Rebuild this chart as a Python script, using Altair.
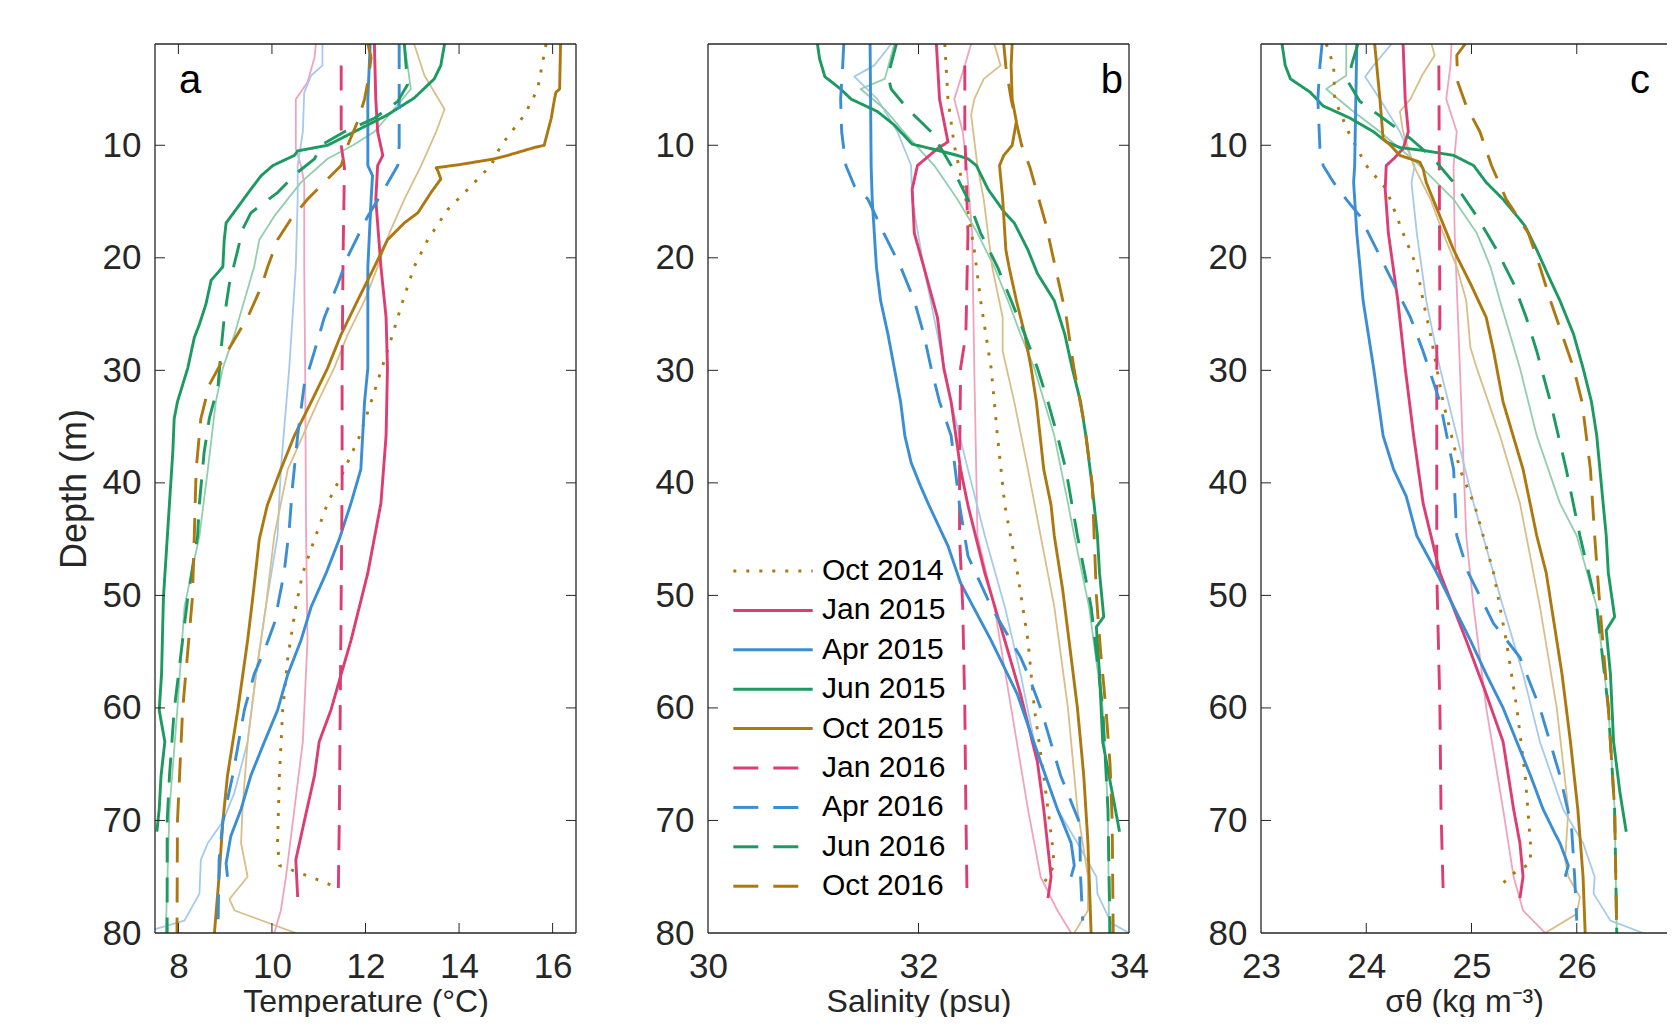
import altair as alt
import pandas as pd

FONT = "Liberation Sans"
TXT = "#262626"

series_order = ["Oct 2014", "Jan 2015", "Apr 2015", "Jun 2015", "Oct 2015",
                "Jan 2016", "Apr 2016", "Jun 2016", "Oct 2016"]
series_colors = ["#AD780F", "#DE3D72", "#3A8ED4", "#1C9A62", "#AD780F",
                 "#DE3D72", "#3A8ED4", "#1C9A62", "#AD780F"]
series_dashes = [[3, 10], [1, 0], [1, 0], [1, 0], [1, 0],
                 [25, 15], [25, 15], [25, 15], [25, 15]]
faint_names = ["ref pink", "ref blue", "ref green", "ref tan"]
faint_colors = ["#F0A3BE", "#A6CAEC", "#93CEAE", "#D9BE88"]

depth_ticks = [10, 20, 30, 40, 50, 60, 70, 80]
inner_depth_ticks = [10, 20, 30, 40, 50, 60, 70]
temp_ticks = [8, 10, 12, 14, 16]
sal_ticks = [30, 32, 34]
sig_ticks = [23, 24, 25, 26]
temp_inner = [8, 10, 12, 14, 16]
sal_inner = [32]
sig_inner = [24, 25, 26]

# ---------------- Temperature (depth, degC) ----------------
temp_oct2014 = [(1, 15.86), (5, 15.68), (7.3, 15.4), (10, 14.9), (11.8, 14.68), (13.6, 14.26), (15.7, 13.76),
                (18.4, 13.33), (20.8, 13.04), (23.8, 12.8), (26.8, 12.58), (29.8, 12.35), (32.8, 12.12),
                (35.8, 11.88), (38.8, 11.55), (41.8, 11.19), (45, 10.91), (48, 10.66), (51, 10.51),
                (55.5, 10.34), (60.2, 10.23), (66, 10.16), (72, 10.12), (74, 10.16), (74.7, 10.62),
                (75.6, 11.19), (76, 11.37)]
temp_jan2015 = [(1, 12.19), (5.9, 12.22), (8.8, 12.26), (10.9, 12.37), (11.8, 12.26), (14.8, 12.22),
                (20.8, 12.33), (25.3, 12.44), (29.8, 12.47), (35.8, 12.44), (41.8, 12.33), (48, 12.05),
                (54, 11.69), (57, 11.48), (60.2, 11.26), (63, 11.01), (66, 10.91), (70.1, 10.69),
                (73.5, 10.51), (76.8, 10.55)]
temp_apr2015 = [(1, 12.1), (5.9, 12.05), (11.8, 12.05), (12.7, 12.15), (14.8, 12.12), (20.8, 12.05),
                (29.8, 12.05), (32.8, 11.98), (38.8, 11.9), (41.8, 11.69), (45, 11.44), (48, 11.16),
                (51, 10.84), (54, 10.62), (57, 10.34), (60.2, 10.12), (63, 9.84), (66, 9.55), (69, 9.34),
                (71.4, 9.12), (73.8, 9.02), (75, 9.05)]
temp_jun2015 = [(1, 13.69), (2.9, 13.61), (4.1, 13.47), (5.8, 13.04), (7.3, 12.47), (8.8, 11.76), (10, 11.19),
                (10.5, 10.55), (10.9, 10.48), (11.8, 10.02), (12.7, 9.77), (13.9, 9.55), (15.1, 9.34),
                (16.9, 9.02), (18.4, 8.98), (20.8, 8.95), (22, 8.7), (24.1, 8.59), (25.9, 8.45), (27.1, 8.34),
                (29.8, 8.2), (32.8, 7.98), (34.3, 7.91), (37.3, 7.88), (41.8, 7.81), (45, 7.76), (50.2, 7.68),
                (57, 7.64), (60.2, 7.59), (63, 7.71), (66, 7.63), (69, 7.59), (71, 7.54)]
temp_oct2015 = [(1, 16.17), (5, 16.15), (5.3, 16.07), (5.9, 16.04), (7.6, 15.97), (10, 15.82), (10.2, 15.61),
                (10.9, 15.04), (11.2, 14.76), (11.7, 14.04), (12, 13.51), (12.3, 13.55), (13, 13.61),
                (14.2, 13.4), (16, 13.12), (16.9, 12.83), (18.4, 12.47), (20.8, 12.19), (23.8, 11.83),
                (26.8, 11.48), (29.8, 11.19), (32.8, 10.84), (35.8, 10.48), (38.8, 10.19), (42, 9.9),
                (45, 9.73), (50.2, 9.59), (54, 9.48), (60.2, 9.27), (66, 9.05), (70.1, 8.95), (75, 8.87),
                (80, 8.77)]
temp_jan2016 = [(2.9, 11.48), (10, 11.48), (12, 11.55), (20, 11.52), (30, 11.5), (40, 11.5), (50, 11.48),
                (60, 11.46), (70, 11.44), (76, 11.42)]
temp_apr2016 = [(1, 12.72), (10, 12.72), (11.8, 12.69), (13.9, 12.4), (16.3, 12.05), (19.9, 11.62),
                (22.3, 11.41), (25.3, 11.12), (28.3, 10.91), (31.3, 10.69), (35.8, 10.55), (40.3, 10.44),
                (44.1, 10.37), (48, 10.26), (52.5, 10.05), (54.9, 9.84), (57, 9.62), (60.2, 9.41),
                (66, 9.16), (70.1, 8.95), (73.5, 8.87), (78.9, 8.85)]
temp_jun2016 = [(1, 12.83), (4.6, 12.9), (6.1, 12.69), (7.6, 12.19), (8.8, 11.55), (10, 11.05), (11.2, 10.91),
                (12.4, 10.55), (14.2, 10.12), (16, 9.55), (17.5, 9.37), (19.3, 9.27), (22.3, 9.09),
                (25.3, 8.98), (28.3, 8.91), (31.3, 8.85), (34.3, 8.66), (37.3, 8.55), (41.8, 8.45),
                (44.7, 8.41), (50.2, 8.2), (60.2, 7.91), (66, 7.81), (70.1, 7.76), (80, 7.76)]
temp_oct2016 = [(1, 12.05), (2.2, 12.12), (4.4, 12.05), (5.9, 11.98), (7.9, 11.83), (10, 11.62),
                (11.8, 11.48), (13, 11.19), (14.8, 10.76), (16.6, 10.4), (18.4, 10.12), (20.8, 9.91),
                (22.6, 9.77), (25.3, 9.48), (28.3, 9.05), (31.3, 8.66), (34.3, 8.48), (38.8, 8.38),
                (44.7, 8.34), (50.2, 8.3), (60.2, 8.09), (70.1, 7.98), (80, 7.97)]
temp_ref_pink = [(1, 10.94), (2.2, 10.91), (4.4, 10.76), (5.9, 10.51), (8.8, 10.51), (10.3, 10.51),
                 (11.8, 10.62), (13.3, 10.69), (20.8, 10.69), (29.8, 10.71), (44.7, 10.73), (54, 10.76),
                 (63, 10.66), (69, 10.48), (75, 10.3), (78, 10.19), (80, 10.05)]
temp_ref_blue = [(1, 11.08), (2.9, 11.08), (3.8, 10.84), (5.3, 10.69), (8.8, 10.66), (11.8, 10.55),
                 (14.8, 10.55), (20.8, 10.51), (29.8, 10.37), (38.8, 10.19), (44.7, 10.12), (51, 9.87),
                 (57, 9.66), (63, 9.48), (67.5, 9.2), (70.1, 8.95), (72, 8.63), (73.5, 8.48), (76.5, 8.45),
                 (78.9, 8.13), (79.5, 7.63), (80, 7.2)]
temp_ref_green = [(1, 12.83), (2.9, 12.9), (5, 12.97), (6.4, 12.69), (8.8, 12.19), (10, 11.73), (11.2, 11.19),
                  (13.3, 10.62), (16.3, 10.05), (18.4, 9.73), (20.8, 9.62), (23.8, 9.41), (26.8, 9.2),
                  (29.8, 8.95), (32.8, 8.8), (38.8, 8.63), (44.7, 8.45), (51, 8.13), (60, 7.98), (69, 7.81),
                  (80, 7.73)]
temp_ref_tan = [(1, 13.04), (3.8, 13.26), (6.8, 13.69), (8.8, 13.51), (11.8, 13.19), (14.8, 12.83),
                (17.8, 12.51), (20.8, 12.26), (23.8, 11.98), (26.8, 11.62), (29.8, 11.33), (32.8, 10.98),
                (38.8, 10.34), (44.7, 10.05), (51, 9.87), (57, 9.66), (63, 9.48), (69, 9.37), (72, 9.34),
                (75, 9.48), (77, 9.09), (78, 9.2), (80, 10.51)]

# ---------------- Salinity (depth, psu) ----------------
sal_oct2014 = [(1, 32.25), (5.9, 32.28), (10, 32.34), (14.8, 32.45), (19.3, 32.53), (23.8, 32.59),
               (29.8, 32.69), (35.8, 32.75), (42, 32.82), (48, 32.94), (54, 33.04), (60, 33.1), (66, 33.19),
               (72, 33.27), (74, 33.29), (75.6, 33.19)]
sal_jan2015 = [(1, 32.17), (5.9, 32.2), (9.7, 32.28), (10.3, 32.18), (11.8, 31.99), (13.9, 31.94),
               (17.8, 31.96), (20.8, 32.05), (25.3, 32.18), (29.8, 32.24), (32.8, 32.31), (38.8, 32.4),
               (42, 32.47), (48, 32.63), (54, 32.82), (58.8, 32.97), (64.8, 33.13), (69, 33.19), (75, 33.26),
               (76.9, 33.23)]
sal_apr2015 = [(1, 31.54), (11.8, 31.55), (14.8, 31.56), (20.8, 31.6), (23.8, 31.64), (26.8, 31.71),
               (29.8, 31.77), (32.8, 31.83), (35.8, 31.87), (38.2, 31.93), (40.3, 32.02), (42, 32.1),
               (45.6, 32.28), (48.9, 32.4), (54, 32.69), (58.8, 32.94), (64.8, 33.16), (69, 33.32),
               (72, 33.45), (74, 33.48), (75, 33.45)]
sal_jun2015 = [(1, 31.04), (2.3, 31.06), (3.9, 31.11), (5, 31.26), (5.9, 31.36), (7, 31.61), (8.2, 31.77),
               (9.9, 31.94), (10.3, 32.12), (10.9, 32.37), (11.2, 32.47), (11.8, 32.55), (13.9, 32.66),
               (16, 32.82), (16.9, 32.91), (19.3, 33.04), (21.4, 33.13), (23.8, 33.29), (26.8, 33.39),
               (29.8, 33.46), (32.8, 33.54), (35.8, 33.59), (40.3, 33.65), (44.7, 33.7), (48, 33.72),
               (51.9, 33.76), (52.8, 33.69), (57, 33.72), (63, 33.75), (67.5, 33.84), (71, 33.91)]
sal_oct2015 = [(1, 32.89), (2.9, 32.88), (5.9, 32.89), (7.9, 32.93), (10, 32.89), (10.9, 32.81),
               (11.8, 32.77), (14.8, 32.8), (19.3, 32.83), (20.8, 32.86), (23.8, 32.93), (26.8, 33.01),
               (29.8, 33.07), (32.8, 33.12), (38.8, 33.19), (42, 33.26), (44.7, 33.29), (49.5, 33.37),
               (54, 33.43), (60, 33.51), (66, 33.57), (72, 33.61), (80, 33.64)]
sal_jan2016 = [(2.9, 32.44), (8.8, 32.44), (11.8, 32.45), (17.8, 32.47), (26.8, 32.45), (29.8, 32.4),
               (38.8, 32.39), (44.7, 32.39), (51, 32.42), (60, 32.44), (69, 32.45), (76, 32.46)]
sal_apr2016 = [(1, 31.29), (2.9, 31.28), (5.9, 31.26), (8.8, 31.27), (11.8, 31.31), (13.6, 31.39),
               (14.8, 31.52), (17.8, 31.67), (20.8, 31.83), (23.8, 31.96), (26.8, 32.05), (29.8, 32.12),
               (32.8, 32.2), (35.8, 32.31), (42, 32.39), (46.5, 32.47), (51, 32.69), (55.5, 32.97),
               (57, 33.04), (60, 33.16), (66, 33.35), (70.2, 33.53), (75, 33.54), (78.9, 33.56)]
sal_jun2016 = [(1, 31.79), (3.8, 31.71), (5, 31.74), (6.8, 31.9), (8.8, 32.12), (11.8, 32.31), (14.8, 32.47),
               (17.8, 32.59), (20.8, 32.75), (23.8, 32.88), (26.8, 33.01), (29.8, 33.13), (32.8, 33.23),
               (35.8, 33.32), (38.8, 33.4), (44.7, 33.51), (51, 33.64), (60, 33.75), (69, 33.8), (80, 33.82)]
sal_oct2016 = [(1, 32.81), (3, 32.83), (5.9, 32.88), (8, 32.93), (10, 32.98), (12, 33.06), (15, 33.15),
               (17, 33.21), (20, 33.28), (25, 33.4), (30, 33.48), (35, 33.58), (40, 33.65), (45, 33.67),
               (50, 33.69), (55, 33.73), (60, 33.78), (65, 33.82), (70, 33.84), (80, 33.85)]
sal_ref_pink = [(1, 32.5), (2.9, 32.44), (5.9, 32.34), (8.8, 32.42), (10.3, 32.44), (13.3, 32.47),
                (17.8, 32.51), (29.8, 32.53), (44.7, 32.56), (51, 32.72), (60, 32.88), (69, 33.04),
                (75, 33.16), (78, 33.32), (80, 33.45)]
sal_ref_blue = [(1, 31.74), (2.9, 31.58), (3.9, 31.39), (5.9, 31.61), (8.8, 31.8), (11.8, 31.93),
                (14.8, 31.94), (20.8, 32.05), (26.8, 32.18), (32.8, 32.31), (38.8, 32.47), (44.7, 32.63),
                (51, 32.82), (57, 32.97), (63, 33.1), (69, 33.32), (72, 33.51), (75, 33.69), (76.5, 33.7),
                (79.1, 33.83), (80, 34.0)]
sal_ref_green = [(1, 31.77), (4.1, 31.68), (5, 31.45), (6.8, 31.68), (8.8, 31.86), (11.8, 32.15),
                 (14.8, 32.37), (17.8, 32.56), (20.8, 32.72), (23.8, 32.85), (26.8, 32.97), (29.8, 33.1),
                 (35.8, 33.29), (41.8, 33.42), (44.7, 33.48), (51, 33.62), (60, 33.75), (69, 33.8),
                 (80, 33.81)]
sal_ref_tan = [(1, 32.72), (2.9, 32.78), (4.1, 32.62), (5.9, 32.53), (7.3, 32.5), (11.8, 32.56),
               (14.8, 32.62), (20.8, 32.7), (25.3, 32.8), (28.3, 32.8), (32.8, 32.91), (38.8, 33.04),
               (44.7, 33.16), (51, 33.29), (60, 33.42), (69, 33.51), (75, 33.61), (78, 33.61), (80, 33.48)]

# ---------------- Sigma-theta (depth, kg m-3) ----------------
sig_oct2014 = [(1, 23.62), (2.9, 23.69), (5.9, 23.7), (8.8, 23.83), (11.8, 24.0), (13.9, 24.19),
               (17.8, 24.35), (20.8, 24.48), (23.8, 24.54), (26.8, 24.61), (29.8, 24.67), (32.8, 24.73),
               (38.8, 24.89), (42, 25.03), (48, 25.21), (54, 25.33), (60, 25.43), (66, 25.51), (72, 25.56),
               (73.8, 25.56), (74.7, 25.4), (76, 25.25)]
sig_jan2015 = [(1, 24.35), (5.9, 24.37), (8.8, 24.4), (10.3, 24.35), (11.2, 24.26), (11.8, 24.19),
               (13.9, 24.18), (17.8, 24.21), (23.8, 24.3), (29.8, 24.37), (35.8, 24.45), (41.8, 24.54),
               (48, 24.7), (54, 24.95), (58.5, 25.13), (63, 25.3), (69, 25.4), (72, 25.46), (75, 25.49),
               (76.9, 25.46)]
sig_apr2015 = [(1, 23.91), (11.8, 23.89), (13.3, 23.88), (17.8, 23.91), (23.8, 23.97), (29.8, 24.07),
               (35.8, 24.16), (38.8, 24.26), (41.2, 24.38), (44.7, 24.48), (48, 24.67), (51, 24.83),
               (54, 24.99), (57, 25.14), (60, 25.3), (63, 25.43), (66, 25.56), (69, 25.68), (71.1, 25.79),
               (72, 25.84), (74, 25.92), (75, 25.89)]
sig_jun2015 = [(1, 23.2), (2.9, 23.23), (4.1, 23.28), (5.3, 23.47), (6.5, 23.59), (7.6, 23.85), (8.8, 24.07),
               (9.7, 24.19), (10.2, 24.32), (10.5, 24.57), (10.9, 24.83), (11.8, 25.02), (13.3, 25.14),
               (14.8, 25.3), (16.6, 25.46), (17.2, 25.51), (19.3, 25.62), (22, 25.75), (23.8, 25.84),
               (26.8, 25.97), (29.8, 26.06), (32.8, 26.14), (35.8, 26.19), (38.8, 26.22), (44.7, 26.28),
               (48, 26.3), (51.9, 26.36), (53.1, 26.28), (57, 26.32), (63, 26.35), (67.5, 26.41), (71, 26.47)]
sig_oct2015 = [(1, 24.08), (5.9, 24.13), (9.4, 24.16), (10, 24.23), (10.9, 24.32), (11.5, 24.51),
               (12.1, 24.54), (13.3, 24.57), (16.3, 24.7), (19.3, 24.83), (22.3, 24.99), (25.3, 25.14),
               (28.3, 25.21), (32.8, 25.3), (38.8, 25.49), (44.7, 25.62), (48, 25.71), (51, 25.76),
               (57, 25.86), (63, 25.94), (69, 26.01), (75, 26.06), (80, 26.08)]
sig_jan2016 = [(2.9, 24.69), (26.2, 24.7), (27, 24.67), (48, 24.67), (60, 24.7), (69, 24.71), (76, 24.73)]
sig_apr2016 = [(1, 23.58), (2.9, 23.56), (5.9, 23.54), (10.3, 23.56), (11.8, 23.59), (13.3, 23.69),
               (14.8, 23.81), (16.3, 23.94), (19.3, 24.1), (22.3, 24.26), (25.3, 24.42), (28.3, 24.54),
               (32.8, 24.7), (38.8, 24.83), (44.7, 24.86), (48, 24.97), (52.5, 25.21), (55.5, 25.46),
               (60, 25.65), (66, 25.84), (70.5, 25.95), (75, 25.98), (78.9, 26.0)]
sig_jun2016 = [(1, 23.92), (2.9, 23.86), (4.4, 23.83), (6.1, 23.94), (7.6, 24.16), (9.4, 24.42), (11.2, 24.64),
               (13.3, 24.83), (16.3, 25.05), (19.3, 25.24), (22.3, 25.4), (25.3, 25.52), (28.3, 25.62),
               (32.8, 25.75), (38.8, 25.9), (44.7, 26.03), (51, 26.19), (60, 26.3), (69, 26.36), (80, 26.38)]
sig_oct2016 = [(1, 24.94), (2, 24.86), (4.4, 24.87), (6.5, 24.95), (8.8, 25.08), (11.8, 25.19), (14.8, 25.33),
               (17.8, 25.54), (20.8, 25.65), (23.8, 25.75), (26.8, 25.86), (29.8, 25.97), (32.8, 26.05),
               (38.8, 26.13), (44.7, 26.17), (51, 26.22), (60, 26.3), (69, 26.36), (80, 26.38)]
sig_ref_pink = [(1, 24.81), (2.9, 24.8), (5.9, 24.76), (8.8, 24.86), (11.8, 24.83), (17.8, 24.84),
                (29.8, 24.89), (44.7, 24.95), (51, 25.02), (60, 25.14), (69, 25.3), (75, 25.4), (78, 25.49),
                (80, 25.7)]
sig_ref_blue = [(1, 24.24), (2.9, 24.07), (3.9, 23.99), (5.9, 24.13), (8.8, 24.32), (11.8, 24.46),
                (13.3, 24.43), (17.8, 24.48), (23.8, 24.57), (29.8, 24.7), (35.8, 24.86), (41.8, 25.02),
                (51, 25.3), (57, 25.49), (63, 25.65), (69, 25.87), (72, 26.06), (75, 26.17), (76.5, 26.16),
                (78.9, 26.32), (80, 26.63)]
sig_ref_green = [(1, 23.81), (3.8, 23.81), (5, 23.62), (6.8, 23.85), (8.8, 24.13), (11.8, 24.51),
                 (14.8, 24.83), (17.8, 25.05), (20.8, 25.18), (23.8, 25.27), (29.8, 25.46), (35.8, 25.62),
                 (41.8, 25.84), (44.7, 26.0), (51, 26.19), (60, 26.3), (69, 26.36), (80, 26.38)]
sig_ref_tan = [(1, 24.62), (2, 24.65), (3.8, 24.53), (5.9, 24.42), (7, 24.32), (8.8, 24.35), (11.8, 24.45),
               (14.8, 24.61), (17.8, 24.73), (20.8, 24.86), (23.8, 24.95), (28, 24.99), (29.8, 25.05),
               (35.8, 25.27), (41.8, 25.46), (51, 25.65), (60, 25.81), (69, 25.92), (73.5, 25.89), (75, 25.92),
               (76.8, 26.03), (78.3, 26.0), (80, 25.7)]

temp_main = [temp_oct2014, temp_jan2015, temp_apr2015, temp_jun2015, temp_oct2015,
             temp_jan2016, temp_apr2016, temp_jun2016, temp_oct2016]
temp_faint = [temp_ref_pink, temp_ref_blue, temp_ref_green, temp_ref_tan]
sal_main = [sal_oct2014, sal_jan2015, sal_apr2015, sal_jun2015, sal_oct2015,
            sal_jan2016, sal_apr2016, sal_jun2016, sal_oct2016]
sal_faint = [sal_ref_pink, sal_ref_blue, sal_ref_green, sal_ref_tan]
sig_main = [sig_oct2014, sig_jan2015, sig_apr2015, sig_jun2015, sig_oct2015,
            sig_jan2016, sig_apr2016, sig_jun2016, sig_oct2016]
sig_faint = [sig_ref_pink, sig_ref_blue, sig_ref_green, sig_ref_tan]

W, H = 421, 889
WC = 406          # third panel runs into the page edge, as in the original figure
SIG_MAX = 23 + 4 * WC / W
TICK = 10
FRAME = "#262626"
LABEL_FS = 35
TITLE_FS = 32


def to_frame(profiles, names):
    rows = []
    for name, prof in zip(names, profiles):
        for d, v in prof:
            rows.append({"series": name, "depth": d, "value": v})
    return pd.DataFrame(rows)


def panel(main, faint, xdomain, xlabels, inner_x, xtitle, ytitle, legend, letter, letter_x, letter_align,
          width, right_frame):
    x_enc = alt.X("value:Q",
                  scale=alt.Scale(domain=xdomain, nice=False, zero=False),
                  axis=alt.Axis(values=xlabels, ticks=False, domain=False, grid=False,
                                labelPadding=16, titlePadding=2, labelFlush=False,
                                labelOverlap=False, format="d",
                                labelFont=FONT, labelFontSize=LABEL_FS, labelColor=TXT,
                                titleFont=FONT, titleFontSize=TITLE_FS, titleFontWeight="normal",
                                titleColor=TXT),
                  title=xtitle)
    y_axis = alt.Axis(values=depth_ticks, ticks=False, domain=False, grid=False,
                      labelPadding=14, titlePadding=9, labelOverlap=False, format="d",
                      labelFont=FONT, labelFontSize=LABEL_FS, labelColor=TXT,
                      titleFont=FONT, titleFontSize=36, titleFontWeight="normal", titleColor=TXT)
    y_scale = alt.Scale(domain=[1, 80], reverse=True, nice=False, zero=False)
    if ytitle:
        y_enc = alt.Y("depth:Q", title=ytitle, scale=y_scale, axis=y_axis)
    else:
        y_enc = alt.Y("depth:Q", title=None, scale=y_scale, axis=y_axis)

    layers = []
    fdf = to_frame(faint, faint_names)
    for name, col in zip(faint_names, faint_colors):
        layers.append(
            alt.Chart(fdf[fdf["series"] == name]).mark_line(
                clip=True, strokeWidth=1.8, color=col, strokeCap="butt", strokeJoin="round"
            ).encode(x=x_enc, y=y_enc, order="depth:Q")
        )

    mdf = to_frame(main, series_order)
    layers.append(
        alt.Chart(mdf).mark_line(clip=True, strokeWidth=2.9, strokeCap="butt", strokeJoin="round").encode(
            x=x_enc, y=y_enc, order="depth:Q",
            color=alt.Color("series:N", scale=alt.Scale(domain=series_order, range=series_colors),
                            legend=legend),
            strokeDash=alt.StrokeDash("series:N", scale=alt.Scale(domain=series_order, range=series_dashes),
                                      legend=legend),
        )
    )

    ydf = pd.DataFrame({"depth": inner_depth_ticks})
    xdf = pd.DataFrame({"value": inner_x})
    tick_style = dict(color=FRAME, strokeWidth=1)
    layers.append(alt.Chart(ydf).mark_rule(**tick_style).encode(
        y=y_enc, x=alt.value(0), x2=alt.value(TICK)))
    if right_frame:
        layers.append(alt.Chart(ydf).mark_rule(**tick_style).encode(
            y=y_enc, x=alt.value(width - TICK), x2=alt.value(width)))
    layers.append(alt.Chart(xdf).mark_rule(**tick_style).encode(
        x=x_enc, y=alt.value(0), y2=alt.value(TICK)))
    layers.append(alt.Chart(xdf).mark_rule(**tick_style).encode(
        x=x_enc, y=alt.value(H - TICK), y2=alt.value(H)))

    # panel frame
    one = pd.DataFrame({"k": [0]})
    fr = dict(color=FRAME, strokeWidth=1.3)
    layers.append(alt.Chart(one).mark_rule(**fr).encode(
        x=alt.value(0), y=alt.value(0), y2=alt.value(H)))
    layers.append(alt.Chart(one).mark_rule(**fr).encode(
        x=alt.value(0), x2=alt.value(width), y=alt.value(0)))
    layers.append(alt.Chart(one).mark_rule(**fr).encode(
        x=alt.value(0), x2=alt.value(width), y=alt.value(H)))
    if right_frame:
        layers.append(alt.Chart(one).mark_rule(**fr).encode(
            x=alt.value(width), y=alt.value(0), y2=alt.value(H)))

    ldf = pd.DataFrame({"label": [letter]})
    layers.append(alt.Chart(ldf).mark_text(
        font=FONT, fontSize=40, color="black", align=letter_align, baseline="alphabetic"
    ).encode(text="label:N", x=alt.value(letter_x), y=alt.value(49)))

    return alt.layer(*layers).properties(width=width, height=H)


legend_b = alt.Legend(orient="none", legendX=50, legendY=512, title=None, padding=0,
                      labelFont=FONT, labelFontSize=30, labelColor="black",
                      symbolType="M-3,0L3,0", symbolSize=700, symbolStrokeWidth=3,
                      labelOffset=34, rowPadding=9.4, labelLimit=300)

pa = panel(temp_main, temp_faint, [7.5, 16.5], temp_ticks, temp_inner, "Temperature (°C)", "Depth (m)",
           None, "a", 24, "left", W, True)
pb = panel(sal_main, sal_faint, [30, 34], sal_ticks, sal_inner, "Salinity (psu)", None,
           legend_b, "b", 415, "right", W, True)
pc = panel(sig_main, sig_faint, [23, SIG_MAX], sig_ticks, sig_inner, "σθ (kg m⁻³)", None,
           None, "c", 369, "left", WC, False)

chart = alt.hconcat(pa, pb, pc, spacing=132, bounds="flush").resolve_legend(
    color="independent", strokeDash="independent"
).properties(
    padding={"left": 48, "top": 35, "right": 0, "bottom": 0},
    background="white"
).configure_view(
    strokeWidth=0
)

chart.save("out.html", embed_options={"renderer": "svg", "actions": False})
